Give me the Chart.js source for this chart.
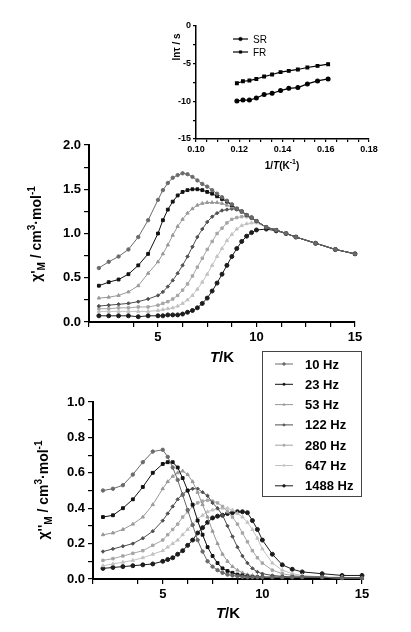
<!DOCTYPE html>
<html>
<head>
<meta charset="utf-8">
<script src="https://cdn.jsdelivr.net/npm/chart.js@4.4.1/dist/chart.umd.min.js"></script>
<style>
  body { margin: 0; background: #fff; }
  canvas { position: absolute; left: 0; top: 0; }
</style>
</head>
<body>
<canvas id="top-chart" width="411" height="632"></canvas>
<canvas id="bottom-chart" width="411" height="632"></canvas>
<canvas id="inset-chart" width="411" height="632"></canvas>
<script>
// Temperatures (K) shared by all frequency series
const tempK = [2, 2.5, 3, 3.5, 4, 4.5, 5, 5.25, 5.5, 5.75, 6, 6.25, 6.5, 6.75, 7, 7.25, 7.5, 7.75,
  8, 8.25, 8.5, 8.75, 9, 9.25, 9.5, 9.75, 10, 10.5, 11, 11.5, 12, 13, 14, 15];

const freqLabels = ['10 Hz', '23 Hz', '53 Hz', '122 Hz', '280 Hz', '647 Hz', '1488 Hz'];

// chi' (in phase)
const chi1_10Hz = [0.61, 0.68, 0.74, 0.82, 0.96, 1.15, 1.38, 1.49, 1.57, 1.63, 1.66, 1.68, 1.67, 1.64, 1.60, 1.56, 1.53, 1.49, 1.45, 1.41, 1.37, 1.33, 1.28, 1.25, 1.21, 1.18, 1.14, 1.07, 1.04, 1.00, 0.96, 0.89, 0.82, 0.77];
const chi1_23Hz = [0.41, 0.45, 0.48, 0.54, 0.64, 0.77, 1.00, 1.15, 1.27, 1.36, 1.43, 1.47, 1.49, 1.50, 1.50, 1.49, 1.47, 1.45, 1.42, 1.39, 1.36, 1.32, 1.28, 1.25, 1.21, 1.18, 1.14, 1.07, 1.04, 1.00, 0.96, 0.89, 0.82, 0.77];
const chi1_53Hz = [0.27, 0.28, 0.30, 0.34, 0.41, 0.55, 0.68, 0.77, 0.87, 0.98, 1.08, 1.16, 1.23, 1.28, 1.32, 1.34, 1.35, 1.35, 1.35, 1.34, 1.32, 1.30, 1.27, 1.24, 1.21, 1.18, 1.14, 1.07, 1.04, 1.00, 0.96, 0.89, 0.82, 0.77];
const chi1_122Hz = [0.18, 0.19, 0.20, 0.21, 0.23, 0.26, 0.30, 0.34, 0.40, 0.47, 0.55, 0.64, 0.74, 0.85, 0.96, 1.05, 1.13, 1.19, 1.23, 1.26, 1.27, 1.28, 1.27, 1.25, 1.21, 1.18, 1.14, 1.07, 1.04, 1.00, 0.96, 0.89, 0.82, 0.77];
const chi1_280Hz = [0.15, 0.15, 0.16, 0.16, 0.17, 0.17, 0.19, 0.21, 0.23, 0.26, 0.30, 0.36, 0.43, 0.52, 0.62, 0.72, 0.82, 0.91, 1.00, 1.06, 1.12, 1.16, 1.18, 1.19, 1.19, 1.17, 1.14, 1.07, 1.04, 1.00, 0.96, 0.89, 0.82, 0.77];
const chi1_647Hz = [0.12, 0.12, 0.12, 0.12, 0.12, 0.12, 0.13, 0.14, 0.15, 0.16, 0.18, 0.21, 0.25, 0.30, 0.37, 0.45, 0.54, 0.64, 0.74, 0.83, 0.92, 0.99, 1.05, 1.09, 1.11, 1.12, 1.12, 1.07, 1.04, 1.00, 0.96, 0.89, 0.82, 0.77];
const chi1_1488Hz = [0.07, 0.07, 0.07, 0.07, 0.06, 0.07, 0.07, 0.07, 0.08, 0.08, 0.08, 0.09, 0.11, 0.13, 0.16, 0.21, 0.27, 0.35, 0.44, 0.54, 0.64, 0.74, 0.83, 0.91, 0.97, 1.01, 1.04, 1.05, 1.03, 1.00, 0.96, 0.89, 0.82, 0.77];

// chi'' (out of phase)
const chi2_10Hz = [0.50, 0.51, 0.53, 0.59, 0.66, 0.72, 0.73, 0.69, 0.63, 0.56, 0.475, 0.39, 0.305, 0.22, 0.155, 0.10, 0.07, 0.05, 0.035, 0.025, 0.02, 0.015, 0.012, 0.01, 0.01, 0.01, 0.01, 0.01, 0.01, 0.01, 0.01, 0.01, 0.005, 0.005];
const chi2_23Hz = [0.35, 0.36, 0.40, 0.45, 0.52, 0.60, 0.65, 0.66, 0.66, 0.63, 0.57, 0.50, 0.42, 0.33, 0.25, 0.18, 0.13, 0.09, 0.06, 0.045, 0.035, 0.025, 0.02, 0.015, 0.012, 0.01, 0.01, 0.01, 0.01, 0.01, 0.01, 0.01, 0.005, 0.005];
const chi2_53Hz = [0.25, 0.26, 0.28, 0.31, 0.35, 0.42, 0.51, 0.55, 0.58, 0.60, 0.61, 0.59, 0.55, 0.49, 0.42, 0.35, 0.27, 0.20, 0.14, 0.10, 0.07, 0.05, 0.035, 0.025, 0.02, 0.015, 0.012, 0.01, 0.01, 0.01, 0.01, 0.01, 0.005, 0.005];
const chi2_122Hz = [0.155, 0.17, 0.185, 0.20, 0.23, 0.27, 0.33, 0.37, 0.41, 0.45, 0.48, 0.50, 0.51, 0.51, 0.49, 0.47, 0.43, 0.40, 0.36, 0.30, 0.24, 0.18, 0.13, 0.09, 0.06, 0.04, 0.03, 0.02, 0.015, 0.01, 0.01, 0.01, 0.005, 0.005];
const chi2_280Hz = [0.105, 0.115, 0.13, 0.145, 0.16, 0.19, 0.22, 0.25, 0.28, 0.31, 0.35, 0.38, 0.41, 0.43, 0.44, 0.445, 0.44, 0.43, 0.41, 0.38, 0.35, 0.31, 0.26, 0.21, 0.16, 0.12, 0.09, 0.05, 0.03, 0.02, 0.015, 0.01, 0.005, 0.005];
const chi2_647Hz = [0.075, 0.085, 0.095, 0.105, 0.12, 0.14, 0.16, 0.18, 0.20, 0.22, 0.25, 0.28, 0.31, 0.34, 0.36, 0.38, 0.39, 0.395, 0.40, 0.40, 0.39, 0.37, 0.35, 0.32, 0.28, 0.23, 0.17, 0.09, 0.05, 0.03, 0.02, 0.012, 0.01, 0.005];
const chi2_1488Hz = [0.06, 0.065, 0.07, 0.075, 0.08, 0.085, 0.10, 0.11, 0.12, 0.14, 0.16, 0.19, 0.22, 0.26, 0.29, 0.32, 0.345, 0.355, 0.36, 0.37, 0.375, 0.38, 0.38, 0.375, 0.33, 0.28, 0.22, 0.14, 0.08, 0.055, 0.04, 0.03, 0.02, 0.02];

// Inset: ln(tau) vs 1/T
const invT = [0.1189, 0.1217, 0.1247, 0.1279, 0.1315, 0.1352, 0.1391, 0.1429, 0.1471, 0.1515, 0.1562, 0.1611];
const lnTauSR = [-9.96, -9.83, -9.83, -9.56, -9.10, -8.93, -8.57, -8.27, -8.17, -7.69, -7.29, -7.03];
const lnTauFR = [-7.60, -7.33, -7.24, -7.03, -6.71, -6.44, -6.13, -5.96, -5.77, -5.51, -5.29, -5.07];

const chi1Series = [chi1_10Hz, chi1_23Hz, chi1_53Hz, chi1_122Hz, chi1_280Hz, chi1_647Hz, chi1_1488Hz];
const chi2Series = [chi2_10Hz, chi2_23Hz, chi2_53Hz, chi2_122Hz, chi2_280Hz, chi2_647Hz, chi2_1488Hz];

// styles per frequency
const seriesColors = ['#6a6a6a', '#111111', '#999999', '#505050', '#a6a6a6', '#c2c2c2', '#1c1c1c'];
const seriesPoints = ['circle', 'rect', 'triangle', 'rectRot', 'rect', 'triangle', 'circle'];
const seriesRadius = [1.7, 2, 1.9, 1.7, 1.7, 1.9, 2];

const FONT = "'Liberation Sans', Arial, Helvetica, sans-serif";

// Text with italic / sub / sup pieces, centred on (x, y)
function drawRich(ctx, parts, x, y, angle, size) {
    ctx.save();
    ctx.translate(x, y);
    ctx.rotate(angle);
    ctx.fillStyle = '#000';
    ctx.textBaseline = 'alphabetic';
    ctx.textAlign = 'left';
    const fontOf = p => {
        const small = p[1] === 'sub' || p[1] === 'sup';
        return (p[1] === 'i' ? 'italic ' : '') + 'bold ' + (small ? Math.round(size * 0.7) : size) + 'px ' + FONT;
    };
    let total = 0;
    parts.forEach(p => { ctx.font = fontOf(p); total += ctx.measureText(p[0]).width; });
    let cx = -total / 2;
    parts.forEach(p => {
        ctx.font = fontOf(p);
        let dy = size * 0.36;
        if (p[1] === 'sub') dy += size * 0.25;
        if (p[1] === 'sup') dy -= size * 0.42;
        ctx.fillText(p[0], cx, dy);
        cx += ctx.measureText(p[0]).width;
    });
    ctx.restore();
}

function drawMarker(ctx, style, radius, x, y) {
    if (Chart.helpers && Chart.helpers.drawPoint) {
        Chart.helpers.drawPoint(ctx, { pointStyle: style, radius: radius, rotation: 0, borderWidth: 1 }, x, y);
    } else {
        ctx.beginPath();
        ctx.arc(x, y, radius, 0, Math.PI * 2);
        ctx.fill();
    }
}

function titlePlugin(xParts, xPos, yParts, yPos, size) {
    return {
        id: 'richTitles',
        afterDraw(chart) {
            drawRich(chart.ctx, xParts, xPos[0], xPos[1], 0, size[0]);
            drawRich(chart.ctx, yParts, yPos[0], yPos[1], -Math.PI / 2, size[1]);
        }
    };
}

// box legend for the frequencies, sits between the two main charts
const freqLegend = {
    id: 'freqLegend',
    afterDraw(chart) {
        const ctx = chart.ctx;
        ctx.save();
        ctx.fillStyle = '#fff';
        ctx.fillRect(262, 351, 99, 145);
        ctx.strokeStyle = '#444';
        ctx.lineWidth = 1;
        ctx.strokeRect(262.5, 351.5, 99, 145);
        chart.data.datasets.forEach((ds, i) => {
            const y = 364 + i * 20.3;
            ctx.strokeStyle = ds.borderColor;
            ctx.fillStyle = ds.borderColor;
            ctx.lineWidth = 1;
            ctx.beginPath();
            ctx.moveTo(275, y);
            ctx.lineTo(293, y);
            ctx.stroke();
            ctx.lineWidth = 0.5;
            drawMarker(ctx, ds.pointStyle, 1.4, 284, y);
            ctx.fillStyle = '#000';
            ctx.font = 'bold 13px ' + FONT;
            ctx.textBaseline = 'middle';
            ctx.textAlign = 'left';
            ctx.fillText(ds.label, 305, y + 1);
        });
        ctx.restore();
    }
};

const insetLegend = {
    id: 'insetLegend',
    afterDraw(chart) {
        const ctx = chart.ctx;
        ctx.save();
        chart.data.datasets.forEach((ds, i) => {
            const y = 39 + i * 13;
            ctx.strokeStyle = '#000';
            ctx.fillStyle = '#000';
            ctx.lineWidth = 1.2;
            ctx.beginPath();
            ctx.moveTo(233, y);
            ctx.lineTo(248, y);
            ctx.stroke();
            ctx.lineWidth = 0.5;
            drawMarker(ctx, ds.pointStyle, 1.8, 240.5, y);
            ctx.font = '10px ' + FONT;
            ctx.textBaseline = 'middle';
            ctx.textAlign = 'left';
            ctx.fillText(ds.label, 253, y + 1);
        });
        ctx.restore();
    }
};

function freqDatasets(seriesList) {
    return freqLabels.map((label, i) => ({
        label: label,
        data: tempK.map((t, j) => ({ x: t, y: seriesList[i][j] })),
        borderColor: seriesColors[i],
        backgroundColor: seriesColors[i],
        pointBackgroundColor: seriesColors[i],
        pointBorderColor: seriesColors[i],
        pointStyle: seriesPoints[i],
        pointRadius: seriesRadius[i],
        pointBorderWidth: 1,
        borderWidth: 1,
        showLine: true,
        clip: false
    }));
}

// axis helper: ticks outside, minor ticks without labels
function axis(min, max, step, labelEvery, digits, fontSize, tickLen, size, isY) {
    return {
        type: 'linear',
        min: min,
        max: max,
        afterFit: scale => {
            if (isY) scale.width = size; else scale.height = size;
        },
        border: { display: true, color: '#000', width: fontSize > 10 ? 2 : 1.5 },
        grid: { drawOnChartArea: false, drawTicks: true, tickLength: tickLen, color: '#000', lineWidth: 1.2 },
        ticks: {
            stepSize: step,
            autoSkip: false,
            maxRotation: 0,
            padding: fontSize > 10 ? 3 : 2,
            color: '#000',
            font: { family: FONT, size: fontSize, weight: 'bold' },
            callback: function(value) {
                const k = value / labelEvery;
                if (Math.abs(k - Math.round(k)) > 1e-6) return '';
                if (!isY && value < labelEvery / 2) return '';
                return value.toFixed(digits);
            }
        }
    };
}

const baseOptions = (padding, scales) => ({
    responsive: false,
    animation: false,
    devicePixelRatio: 1,
    layout: { padding: padding },
    plugins: { legend: { display: false }, tooltip: { enabled: false } },
    scales: scales
});

new Chart(document.getElementById('top-chart').getContext('2d'), {
    type: 'scatter',
    data: { datasets: freqDatasets(chi1Series) },
    options: baseOptions({ left: 19, top: 145, right: 56, bottom: 267 }, {
        x: axis(1.5, 15, 1.25, 5, 0, 13, 5, 43, false),
        y: axis(0, 2, 0.25, 0.5, 1, 13, 5, 70, true)
    }),
    plugins: [titlePlugin(
        [['T', 'i'], ['/K', '']], [222, 357],
        [["\u03C7'", ''], ['M', 'sub'], [' / cm', ''], ['3', 'sup'], ['\u00B7mol', ''], ['-1', 'sup']], [36, 234],
        [15, 14])]
});

new Chart(document.getElementById('bottom-chart').getContext('2d'), {
    type: 'scatter',
    data: { datasets: freqDatasets(chi2Series) },
    options: baseOptions({ left: 19, top: 402, right: 49, bottom: 10 }, {
        x: axis(1.5, 15, 1.25, 5, 0, 13, 5, 43, false),
        y: axis(0, 1, 0.1, 0.2, 1, 13, 5, 74, true)
    }),
    plugins: [titlePlugin(
        [['T', 'i'], ['/K', '']], [228, 613],
        [["\u03C7''", ''], ['M', 'sub'], [' / cm', ''], ['3', 'sup'], ['\u00B7mol', ''], ['-1', 'sup']], [43, 490],
        [15, 14]), freqLegend]
});

new Chart(document.getElementById('inset-chart').getContext('2d'), {
    type: 'scatter',
    data: {
        datasets: [
            { label: 'SR', data: invT.map((v, i) => ({ x: v, y: lnTauSR[i] })), pointStyle: 'circle' },
            { label: 'FR', data: invT.map((v, i) => ({ x: v, y: lnTauFR[i] })), pointStyle: 'rect' }
        ].map(ds => Object.assign(ds, {
            borderColor: '#000', backgroundColor: '#000', pointBackgroundColor: '#000', pointBorderColor: '#000',
            pointRadius: 1.9, borderWidth: 1.2, showLine: true, clip: false
        }))
    },
    options: baseOptions({ left: 150, top: 26, right: 42, bottom: 461 }, {
        x: axis(0.1, 0.18, 0.005, 0.02, 2, 9, 3, 32, false),
        y: axis(-15, 0, 2.5, 5, 0, 9, 3, 46, true)
    }),
    plugins: [titlePlugin(
        [['1/', ''], ['T', 'i'], ['(K', ''], ['-1', 'sup'], [')', '']], [282, 165],
        [['ln\u03C4 / s', '']], [176, 47],
        [10, 10]), insetLegend]
});
</script>
</body>
</html>
